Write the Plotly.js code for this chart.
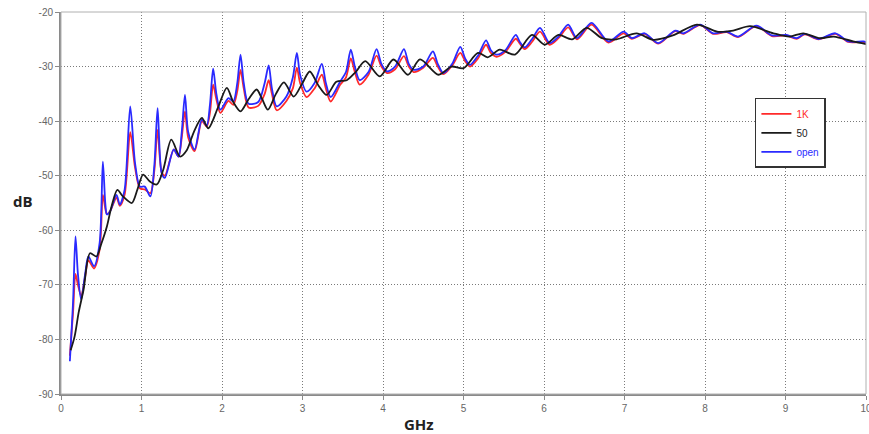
<!DOCTYPE html>
<html>
<head>
<meta charset="utf-8">
<script src="https://cdn.plot.ly/plotly-3.0.1.min.js"></script>
<style>html,body{margin:0;padding:0;background:#fff;}#chart{width:869px;height:434px;}</style>
</head>
<body>
<div id="chart"></div>
<script>
// Frequency (GHz) and level (dB) for the "open" and "1K" series
const freqOpen = [0.11,0.15,0.18,0.21,0.25,0.30,0.34,0.41,0.48,0.52,0.55,0.57,0.61,0.69,0.73,0.79,0.86,0.92,0.98,1.04,1.11,1.16,1.20,1.25,1.29,1.40,1.46,1.50,1.54,1.58,1.66,1.75,1.81,1.85,1.89,1.93,1.98,2.08,2.14,2.19,2.23,2.27,2.33,2.45,2.53,2.58,2.62,2.68,2.80,2.88,2.93,2.97,3.05,3.15,3.24,3.29,3.35,3.47,3.54,3.60,3.65,3.71,3.82,3.92,3.98,4.05,4.15,4.26,4.32,4.38,4.50,4.62,4.68,4.75,4.86,4.96,5.02,5.08,5.18,5.28,5.34,5.41,5.52,5.65,5.70,5.76,5.85,5.95,6.07,6.18,6.30,6.41,6.59,6.80,6.99,7.09,7.25,7.42,7.63,7.73,7.94,8.10,8.27,8.41,8.64,8.83,9.01,9.14,9.24,9.41,9.62,9.78,9.97,10.0];
const dbOpen = [-84.0,-73,-61.1,-68,-72.7,-68,-64.8,-66.6,-62.3,-47.4,-55,-57.1,-56.5,-53.5,-55.3,-52.6,-37.3,-47.7,-52.0,-52.0,-53.8,-48,-37.6,-49.5,-50.4,-45.2,-46.5,-42,-35.2,-42,-45.2,-39.7,-40.8,-37,-30.4,-35,-37.9,-35.8,-36.4,-33,-27.8,-33,-36.8,-36.5,-33,-29.8,-34,-37.3,-35.5,-32,-27.5,-31.5,-34.6,-33,-29.5,-33,-35.6,-32.7,-31,-26.9,-30,-32.5,-31,-26.8,-29.5,-30.9,-30,-26.8,-29.5,-30.6,-30,-27.2,-29.5,-31.2,-29.5,-26.4,-28.5,-29.7,-28,-25.2,-27,-27.8,-27,-24.2,-25.5,-26.5,-25,-22.9,-25.7,-24.5,-22.3,-24.8,-22.0,-25.4,-23.6,-24.8,-23.9,-25.7,-23.4,-23.9,-22.3,-23.9,-23.6,-24.5,-22.5,-24.3,-24.2,-24.8,-24.0,-24.95,-23.9,-25.4,-25.4,-25.6];
const db1K = [-83,-75,-68,-70,-72,-68.5,-65.5,-67,-63.5,-53.5,-56,-57,-56.5,-54,-55.5,-53.5,-42,-48.5,-52.3,-52.5,-53.2,-49,-41.6,-49.3,-50.0,-45.2,-46.5,-43,-38.2,-43,-45.5,-40,-41,-38.5,-33.3,-36,-38.5,-36.3,-37,-34.5,-30.6,-34,-37.5,-37.2,-35,-32.5,-35,-38,-36.3,-34,-30.2,-33,-35.6,-34,-31.5,-34,-36.4,-33.3,-32,-28.5,-31,-33.3,-31.5,-28.0,-30,-31.2,-30.5,-28.1,-30,-31,-30.2,-28.4,-30,-31.4,-29.8,-27.5,-29,-30,-28.5,-26.0,-27.5,-28.2,-27.3,-24.9,-25.8,-26.8,-25.5,-23.6,-26.0,-24.8,-22.8,-25.0,-22.3,-25.6,-23.9,-24.9,-24.0,-25.8,-23.5,-24.0,-22.4,-24.0,-23.7,-24.6,-22.6,-24.4,-24.3,-24.9,-24.1,-25.0,-24.0,-25.5,-25.5,-25.7];
// Frequency (GHz) and level (dB) for the "50" series
const freq50 = [0.12,0.17,0.22,0.28,0.36,0.44,0.50,0.57,0.63,0.70,0.77,0.88,0.95,1.02,1.10,1.19,1.27,1.37,1.48,1.56,1.65,1.75,1.83,1.95,2.06,2.14,2.23,2.33,2.43,2.50,2.57,2.67,2.77,2.89,3.00,3.09,3.20,3.30,3.42,3.55,3.66,3.78,3.96,4.13,4.31,4.46,4.69,4.85,5.00,5.18,5.30,5.45,5.64,5.85,6.01,6.18,6.35,6.53,6.72,6.90,7.15,7.36,7.60,7.90,8.15,8.35,8.56,8.85,9.05,9.22,9.43,9.60,9.84,10.0];
const db50 = [-82,-79.4,-75,-70.9,-64.2,-64.8,-62.5,-59.3,-55.5,-52.6,-53.8,-55.0,-52.5,-49.8,-51.0,-51.6,-48.9,-43.4,-46.5,-45.4,-42,-39.4,-41.3,-37.5,-33.9,-36.5,-38.2,-36,-34.2,-36,-37.9,-35,-32.9,-35.5,-33,-30.9,-33.5,-35.2,-32.8,-32.5,-31,-29.0,-31.8,-28.7,-31.5,-28.7,-31.5,-30,-30.3,-27.5,-28.3,-26.9,-27.8,-24.2,-26.0,-24.2,-25.0,-22.9,-24.8,-25,-23.9,-25.1,-24.3,-22.3,-23.6,-23.4,-22.6,-23.9,-24.5,-23.9,-24.8,-24.5,-25.4,-25.9];
const seriesNames = ['1K','50','open'];
const seriesColors = ['#ff2a2a','#1a1a1a','#2a2aff'];
const xTicks = [0,1,2,3,4,5,6,7,8,9,10];
const yTicks = [-90,-80,-70,-60,-50,-40,-30,-20];

function trace(x, y, i, rank){
  return {
    x: x, y: y, type: 'scatter', mode: 'lines',
    name: '<span style="color:' + seriesColors[i] + '">' + seriesNames[i] + '</span>',
    line: {color: seriesColors[i], width: 1.8, shape: 'spline', smoothing: 0.8},
    legendrank: rank
  };
}
const data = [
  trace(freqOpen, db1K, 0, 1),
  trace(freqOpen, dbOpen, 2, 3),
  trace(freq50, db50, 1, 2)
];
const axisFont = {family: 'Liberation Sans, Arial, sans-serif', size: 10, color: '#666'};
const layout = {
  width: 869, height: 434,
  margin: {l: 61, r: 3, t: 12, b: 40},
  paper_bgcolor: '#fff', plot_bgcolor: '#fff',
  showlegend: true,
  legend: {x: 0.862, y: 0.775, xanchor: 'left', yanchor: 'top', bgcolor: '#fff',
           bordercolor: '#333', borderwidth: 1.5,
           font: {family: 'Liberation Sans, Arial, sans-serif', size: 10, color: '#333'},
           itemwidth: 30, tracegroupgap: 0},
  xaxis: {range: [0, 10], tickvals: xTicks, ticktext: xTicks.map(String),
          showgrid: true, gridcolor: '#7a7a7a', griddash: '1px,2px', gridwidth: 1,
          showline: true, linecolor: '#8a8a8a', linewidth: 2, ticklabeloverflow: 'allow',
          ticks: 'outside', ticklen: 4, tickcolor: '#8a8a8a', tickfont: axisFont, zeroline: false},
  yaxis: {range: [-90, -20], tickvals: yTicks, ticktext: yTicks.map(String),
          showgrid: true, gridcolor: '#7a7a7a', griddash: '1px,2px', gridwidth: 1,
          showline: true, linecolor: '#8a8a8a', linewidth: 2,
          ticks: 'outside', ticklen: 4, tickcolor: '#8a8a8a', tickfont: axisFont, zeroline: false},
  shapes: [{type: 'rect', xref: 'paper', yref: 'paper', x0: 0, x1: 1, y0: 0, y1: 1,
            line: {color: '#b0b0b0', width: 1}}],
  annotations: [
    {text: '<b>GHz</b>', xref: 'paper', yref: 'paper', x: 0.445, y: -0.079, xanchor: 'center', yanchor: 'middle',
     showarrow: false, font: {family: 'Open Sans, sans-serif', size: 15, color: '#222'}},
    {text: '<b>dB</b>', xref: 'paper', yref: 'paper', x: -0.047, y: 0.505, xanchor: 'center', yanchor: 'middle',
     showarrow: false, font: {family: 'Open Sans, sans-serif', size: 15, color: '#222'}}
  ]
};
Plotly.newPlot('chart', data, layout, {displayModeBar: false, staticPlot: true});
</script>
</body>
</html>
